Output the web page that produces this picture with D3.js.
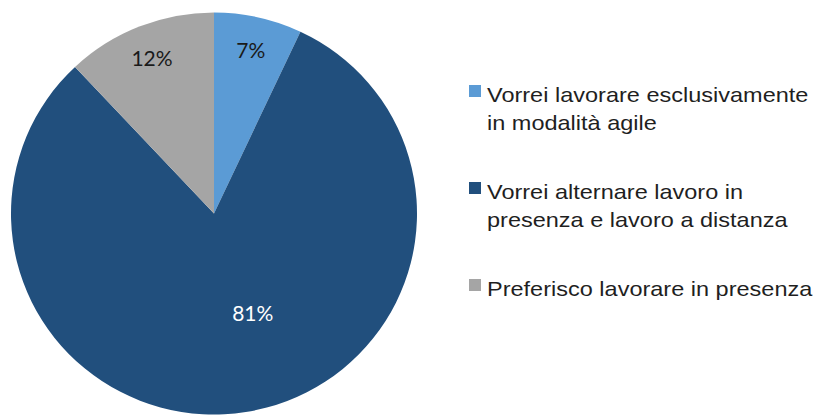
<!DOCTYPE html>
<html>
<head>
<meta charset="utf-8">
<script src="https://cdn.jsdelivr.net/npm/d3@7"></script>
<style>
  html, body { margin: 0; padding: 0; background: #fff; }
  svg { display: block; }
</style>
</head>
<body>
<svg id="chart" width="814" height="416"></svg>
<script>
// Survey answers on remote work preference
const categories = [
  "Vorrei lavorare esclusivamente in modalità agile",
  "Vorrei alternare lavoro in presenza e lavoro a distanza",
  "Preferisco lavorare in presenza"
];
const legendLines = [
  ["Vorrei lavorare esclusivamente", "in modalità agile"],
  ["Vorrei alternare lavoro in", "presenza e lavoro a distanza"],
  ["Preferisco lavorare in presenza"]
];
const values = [7, 81, 12];
const colors = ["#5b9bd5", "#214f7d", "#a5a5a5"];
const labelColors = ["#1a1a1a", "#ffffff", "#1a1a1a"];

const svg = d3.select("#chart");
const cx = 214, cy = 213.5;
const r = 201;

const pie = d3.pie().sort(null).value(d => d)(values);
const arc = d3.arc().innerRadius(0).outerRadius(r);

const g = svg.append("g")
  .attr("transform", `translate(${cx},${cy}) scale(1.01,1)`);

g.selectAll("path.slice")
  .data(pie)
  .join("path")
  .attr("class", "slice")
  .attr("d", arc)
  .attr("fill", (d, i) => colors[i]);

// Data labels: small slices sit near the rim, the big one is pulled toward the centre
const labelPos = d => {
  const big = d.data === d3.max(values);
  const rad = big ? 107 : 0.83 * r;
  const ang = big ? (d.startAngle + d.endAngle) / 2 - 0.21 : (d.startAngle + d.endAngle) / 2;
  return [Math.sin(ang) * rad, -Math.cos(ang) * rad];
};

const lg = svg.append("g").attr("transform", `translate(${cx},${cy})`);
lg.selectAll("text")
  .data(pie)
  .join("text")
  .attr("x", d => labelPos(d)[0] * 1.01)
  .attr("y", d => labelPos(d)[1])
  .attr("dy", "0.36em")
  .attr("text-anchor", "middle")
  .attr("font-family", "Lato, 'Open Sans', sans-serif")
  .attr("font-size", 21)
  .attr("fill", (d, i) => labelColors[i])
  .text(d => d.data + "%");

// Legend
const legendX = 469, legendTop = 85, groupGap = 97, lineGap = 28;
const legend = svg.append("g");
legendLines.forEach((lines, i) => {
  const y0 = legendTop + i * groupGap;
  legend.append("rect")
    .attr("x", legendX).attr("y", y0)
    .attr("width", 12).attr("height", 12)
    .attr("fill", colors[i]);
  const t = legend.append("text")
    .attr("transform", `translate(${legendX + 18},${y0 + 17}) scale(1.12,1)`)
    .attr("font-family", "'Liberation Sans', Arial, sans-serif")
    .attr("font-size", 21)
    .attr("fill", "#1f1f1f");
  lines.forEach((ln, j) => {
    t.append("tspan")
      .attr("x", 0)
      .attr("y", j * lineGap)
      .text(ln);
  });
});
</script>
</body>
</html>
